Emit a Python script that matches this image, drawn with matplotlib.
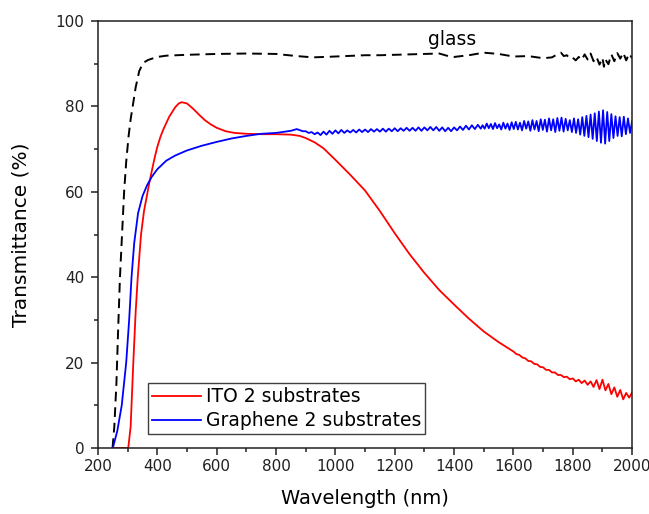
import matplotlib
matplotlib.use('Agg')
import matplotlib.pyplot as plt
from matplotlib.ticker import MultipleLocator

# transmittance spectra (wavelength in nm, transmittance in %)
glass_wl = [249, 255, 262, 268, 274, 281, 288, 295, 303, 310, 318, 327, 339, 352, 369,
            400, 431, 500, 600, 701, 800, 870, 925, 1000, 1100, 1151, 1250, 1300, 1350,
            1380, 1400, 1450, 1500, 1550, 1600, 1650, 1700, 1730,
            1750, 1760, 1770, 1780, 1790, 1800, 1810, 1820, 1830, 1840, 1850, 1860, 1870,
            1880, 1890, 1900, 1905, 1910, 1920, 1930, 1940, 1950, 1960, 1970, 1980, 1990, 2000]
glass_t = [0, 5, 15, 28, 40, 50, 60, 67, 73, 77, 80.5, 84.5, 88.3, 90.2, 90.9,
           91.6, 91.9, 92.1, 92.3, 92.4, 92.3, 91.8, 91.5, 91.7, 92.0, 92.0, 92.2, 92.3, 92.4,
           91.8, 91.6, 92.0, 92.6, 92.3, 91.7, 91.8, 91.3, 91.5,
           92.3, 92.6, 91.8, 92.0, 91.2, 91.4, 90.8, 91.6, 90.9, 92.2, 91.0, 92.4, 90.6,
           91.6, 89.8, 91.4, 89.3, 91.0, 89.9, 92.2, 90.6, 92.5, 91.2, 92.6, 90.8, 92.4, 91.3]

ito_wl = [250, 302, 310, 319, 327, 334, 345, 355, 364, 372, 381, 390, 399, 410, 420, 440,
          460, 472, 482,
          500, 520, 540, 560, 580, 600, 630, 660, 700, 750, 800, 850, 880, 900, 930, 960,
          1000, 1050, 1100, 1150, 1200, 1250, 1300, 1350, 1400, 1450, 1500, 1550,
          1600, 1610, 1620, 1630, 1640, 1650, 1660, 1670, 1680, 1690, 1700, 1710, 1720,
          1730, 1740, 1750, 1760, 1770, 1780, 1790, 1800, 1810, 1820, 1830, 1840, 1850,
          1860, 1870, 1880, 1890, 1900, 1910, 1920, 1930, 1940, 1950, 1960, 1970, 1980,
          1990, 2000]
ito_t = [0, 0, 5, 20, 32, 40, 50, 55.5, 58.8, 61.8, 64.8, 67.7, 70.3, 72.8, 74.6, 77.6,
         79.8, 80.7, 81.0,
         80.7, 79.5, 78.1, 76.8, 75.8, 75.0, 74.2, 73.8, 73.6, 73.5, 73.5, 73.4, 73.1, 72.6, 71.6, 70.2,
         67.5, 64.0, 60.3, 55.5, 50.3, 45.4, 41.0, 37.0, 33.6, 30.3, 27.3, 24.8,
         22.6, 22.0, 21.8, 21.2, 21.0, 20.4, 20.3, 19.7, 19.6, 19.0, 18.9, 18.3, 18.3,
         17.7, 17.7, 17.1, 17.1, 16.6, 16.7, 16.1, 16.3, 15.6, 16.0, 15.2, 15.8, 14.8,
         15.6, 14.3, 15.9, 13.8, 16.0, 13.5, 15.0, 12.6, 14.2, 12.0, 13.6, 11.4, 12.9,
         11.8, 13.0]

# graphene: smooth part, then 10 nm and 7 nm sampled regions with ripple
gr_wl = ([250, 265, 280, 295, 305, 313, 322, 335, 350, 365, 381, 400, 430, 460, 500, 550,
          600, 650, 700, 750, 800, 850, 870, 890]
         + list(range(900, 1500, 10)) + list(range(1496, 2001, 7)))
gr_t = [0, 4, 10, 20, 30, 40, 48, 55, 59, 61.5, 63.5, 65.3, 67.3, 68.5, 69.7, 70.8,
        71.7, 72.5, 73.1, 73.6, 73.8, 74.3, 74.7, 74.2,
        # 900-1490
        74.2, 73.8, 74.0, 73.5, 73.9, 73.3, 74.1, 73.4, 74.3, 73.6,
        74.4, 73.7, 74.5, 73.8, 74.4, 73.9, 74.5, 73.9, 74.6, 74.0,
        74.6, 74.0, 74.7, 74.1, 74.7, 74.1, 74.8, 74.1, 74.8, 74.2,
        74.9, 74.2, 74.9, 74.3, 75.0, 74.3, 75.0, 74.3, 75.1, 74.3,
        75.1, 74.4, 75.2, 74.4, 75.2, 74.3, 75.1, 74.2, 75.0, 74.2,
        75.1, 74.4, 75.3, 74.5, 75.5, 74.6, 75.6, 74.7, 75.7, 74.8,
        # 1496-2000
        75.6, 74.8, 76.0, 74.9, 75.9, 74.7, 76.1, 74.9, 75.8, 74.6,
        76.2, 74.8, 76.0, 74.5, 76.3, 74.7, 76.4, 74.6, 76.2, 74.4,
        76.6, 74.8, 76.5, 74.3, 76.8, 74.6, 76.6, 74.2, 77.0, 74.5,
        76.9, 74.1, 77.2, 74.4, 77.0, 74.0, 77.3, 74.3, 77.4, 74.1,
        77.1, 74.4, 76.8, 74.0, 77.2, 73.8, 77.0, 73.4, 77.5, 73.1,
        77.8, 72.8, 78.1, 72.4, 78.4, 71.9, 78.8, 71.5, 79.1, 71.3,
        78.7, 71.9, 78.2, 72.6, 77.7, 73.1, 77.5, 73.0, 77.6, 73.5,
        77.2, 73.8, 76.6]

fig = plt.figure(figsize=(6.49, 5.14), dpi=100)
ax = fig.add_axes([0.151, 0.1284, 0.823, 0.8306])

ax.plot(glass_wl, glass_t, color='black', lw=1.4, dashes=(5, 3))
ax.plot(ito_wl, ito_t, color='#ff0000', lw=1.3, label='ITO 2 substrates')
ax.plot(gr_wl, gr_t, color='#0000ff', lw=1.3, label='Graphene 2 substrates')

ax.text(1393, 94.3, 'glass', ha='center', va='baseline', fontsize=13.5)

ax.set_xlim(200, 2000)
ax.set_ylim(0, 100)
ax.xaxis.set_major_locator(MultipleLocator(200))
ax.xaxis.set_minor_locator(MultipleLocator(100))
ax.yaxis.set_major_locator(MultipleLocator(20))
ax.yaxis.set_minor_locator(MultipleLocator(10))
ax.tick_params(which='both', direction='out', width=1.1, labelsize=11, colors='#202020')
ax.tick_params(which='major', length=4.8)
ax.tick_params(which='minor', length=2.8)
ax.tick_params(axis='x', pad=3)
ax.tick_params(axis='y', pad=5)
for s in ax.spines.values():
    s.set_linewidth(1.1)
    s.set_color('#202020')

ax.set_xlabel('Wavelength (nm)', fontsize=14, labelpad=11)
ax.set_ylabel('Transmittance (%)', fontsize=14.5, labelpad=18)

leg = ax.legend(loc='lower left', bbox_to_anchor=(0.094, 0.033), borderaxespad=0,
                fontsize=13.5, fancybox=False, handlelength=2.6, handletextpad=0.3,
                borderpad=0.2, labelspacing=0.27, framealpha=1)
leg.get_frame().set_edgecolor('#404040')
leg.get_frame().set_linewidth(1.0)

fig.savefig('out.png', dpi=100)
